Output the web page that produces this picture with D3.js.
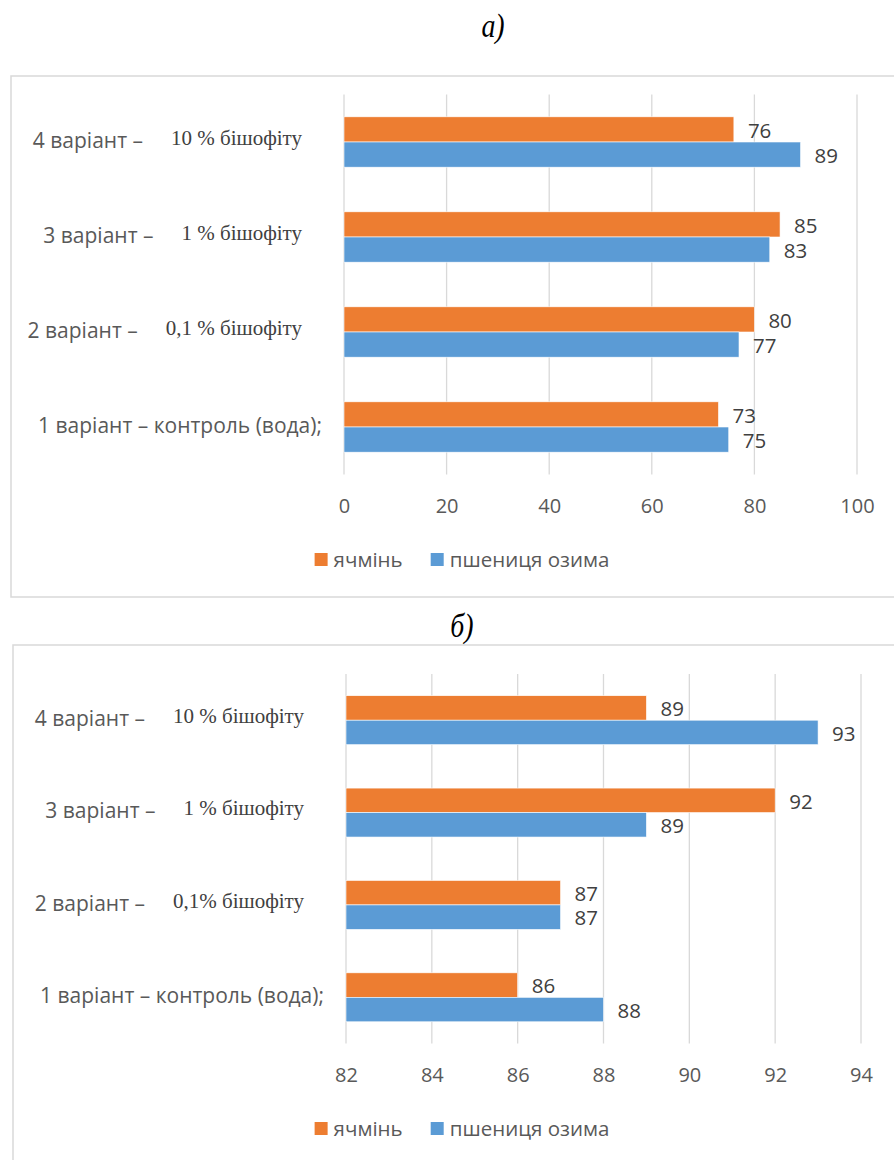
<!DOCTYPE html>
<html>
<head>
<meta charset="utf-8">
<script src="https://cdn.jsdelivr.net/npm/d3@7"></script>
<style>
  html, body { margin: 0; padding: 0; background: #fff; }
  svg { display: block; }
</style>
</head>
<body>
<svg id="chart" width="894" height="1160"></svg>
<script>
// Categories, bottom to top
const categoryLeads = ["1 варіант – контроль (вода);", "2 варіант –", "3 варіант –", "4 варіант –"];
const dosesA = ["", "0,1 % бішофіту", "1 % бішофіту", "10 % бішофіту"];
const dosesB = ["", "0,1% бішофіту", "1 % бішофіту", "10 % бішофіту"];

const seriesNames = ["ячмінь", "пшениця озима"];
const seriesColors = ["#ED7D31", "#5B9BD5"];

// Panel а)
const barleyA = [73, 80, 85, 76];
const wheatA = [75, 77, 83, 89];
const ticksA = [0, 20, 40, 60, 80, 100];

// Panel б)
const barleyB = [86, 87, 92, 89];
const wheatB = [88, 87, 89, 93];
const ticksB = [82, 84, 86, 88, 90, 92, 94];

const svg = d3.select("#chart");
svg.append("rect").attr("width", 894).attr("height", 1160).attr("fill", "#fff");

const SANS = "'Open Sans', 'Noto Sans', sans-serif";
const SERIF = "'Liberation Serif', 'DejaVu Serif', serif";

function drawPanel(cfg) {
  const g = svg.append("g");

  // title
  g.append("text")
    .attr("x", cfg.titleX).attr("y", cfg.titleY)
    .attr("text-anchor", "middle")
    .attr("font-family", SERIF).attr("font-style", "italic")
    .attr("font-size", 34).attr("fill", "#000")
    .attr("transform", `translate(${cfg.titleX},0) scale(0.82,1) translate(${-cfg.titleX},0)`)
    .text(cfg.title);

  // chart frame
  g.append("rect")
    .attr("x", cfg.frame.x).attr("y", cfg.frame.y)
    .attr("width", cfg.frame.w).attr("height", cfg.frame.h)
    .attr("fill", "none").attr("stroke", "#d9d9d9").attr("stroke-width", 1.5);

  const x = d3.scaleLinear().domain(cfg.domain).range([cfg.plot.left, cfg.plot.right]);
  const y = d3.scaleBand()
    .domain(categoryLeads.slice().reverse())
    .range([cfg.plot.top, cfg.plot.bottom])
    .paddingInner(0.47).paddingOuter(0.235);
  const ySub = d3.scaleBand().domain(seriesNames).range([0, y.bandwidth()]);

  // vertical gridlines
  g.append("g").selectAll("line").data(cfg.ticks).join("line")
    .attr("x1", d => x(d)).attr("x2", d => x(d))
    .attr("y1", cfg.plot.top).attr("y2", cfg.plot.bottom)
    .attr("stroke", "#d9d9d9").attr("stroke-width", 1.3);

  // tick labels along the bottom
  const axis = d3.axisBottom(x).tickValues(cfg.ticks).tickSize(0).tickPadding(0)
    .tickFormat(d3.format("d"));
  const ax = g.append("g")
    .attr("transform", `translate(0,${cfg.tickY})`)
    .call(axis);
  ax.select(".domain").remove();
  ax.selectAll("text")
    .attr("dy", "0.35em")
    .attr("font-family", SANS).attr("font-size", 20).attr("fill", "#595959");

  // bars
  const rows = categoryLeads.map((c, i) => ({
    cat: c, vals: [cfg.barley[i], cfg.wheat[i]]
  }));
  const rowG = g.append("g").selectAll("g").data(rows).join("g")
    .attr("transform", d => `translate(0,${y(d.cat)})`);

  rowG.selectAll("rect").data(d => d.vals.map((v, k) => ({ v, k })))
    .join("rect")
    .attr("x", x(cfg.domain[0]))
    .attr("y", d => ySub(seriesNames[d.k]))
    .attr("width", d => x(d.v) - x(cfg.domain[0]))
    .attr("height", ySub.bandwidth())
    .attr("fill", d => seriesColors[d.k])
    .attr("stroke", "#fff").attr("stroke-width", 0.6);

  // value labels
  rowG.selectAll("text.val").data(d => d.vals.map((v, k) => ({ v, k })))
    .join("text").attr("class", "val")
    .attr("x", d => x(d.v) + 14)
    .attr("y", d => ySub(seriesNames[d.k]) + ySub.bandwidth() / 2 + 1)
    .attr("dy", "0.35em")
    .attr("font-family", SANS).attr("font-size", 20.5).attr("fill", "#404040")
    .text(d => d.v);

  // category labels: sans lead text + serif dose text
  const labelG = g.append("g");
  categoryLeads.forEach((c, i) => {
    const cy = y(c) + y.bandwidth() / 2;
    const dose = cfg.doses[i];
    const t = labelG.append("text")
      .attr("text-anchor", "end")
      .attr("x", dose ? cfg.plot.left - 42 : cfg.plot.left - 22)
      .attr("y", cy)
      .attr("dy", "0.35em");
    t.append("tspan")
      .attr("font-family", SANS).attr("font-size", 21).attr("fill", "#595959")
      .text(c);
    if (dose) {
      t.append("tspan")
        .attr("dx", 28).attr("dy", -3)
        .attr("font-family", SERIF).attr("font-size", 21).attr("fill", "#404040")
        .text(dose);
    }
  });

  // legend, centred on the frame's visible middle
  const leg = g.append("g");
  const items = leg.selectAll("g").data(seriesNames).join("g");
  items.append("rect")
    .attr("width", 13).attr("height", 13).attr("y", -6.5)
    .attr("fill", (d, i) => seriesColors[i]);
  items.append("text")
    .attr("x", 19).attr("dy", "0.35em")
    .attr("font-family", SANS).attr("font-size", 20.5).attr("fill", "#595959")
    .text(d => d);
  let cx = 0;
  items.each(function () {
    d3.select(this).attr("transform", `translate(${cx},0)`);
    cx += this.getBBox().width + 28;
  });
  const total = cx - 28;
  leg.attr("transform", `translate(${cfg.legendCenter - total / 2},${cfg.legendY})`);
}

drawPanel({
  title: "а)", titleX: 493, titleY: 37,
  frame: { x: 11, y: 76, w: 900, h: 521 },
  plot: { left: 344, right: 857, top: 94.5, bottom: 474.5 },
  domain: [0, 100], ticks: ticksA, tickY: 506,
  barley: barleyA, wheat: wheatA, doses: dosesA,
  legendCenter: 462, legendY: 559.5
});

drawPanel({
  title: "б)", titleX: 462, titleY: 637,
  frame: { x: 13, y: 645, w: 900, h: 530 },
  plot: { left: 346, right: 861, top: 674, bottom: 1043.5 },
  domain: [82, 94], ticks: ticksB, tickY: 1075,
  barley: barleyB, wheat: wheatB, doses: dosesB,
  legendCenter: 462, legendY: 1128.5
});
</script>
</body>
</html>
